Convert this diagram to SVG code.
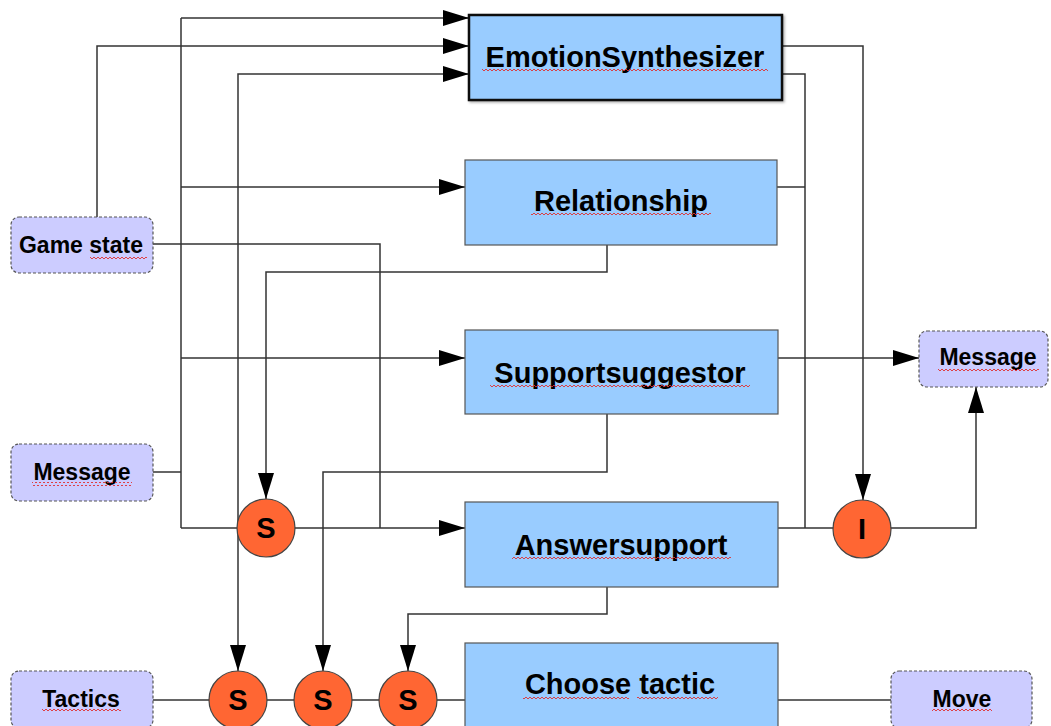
<svg xmlns="http://www.w3.org/2000/svg" width="1051" height="726" viewBox="0 0 1051 726">
<style>
.box{fill:#99ccff;stroke:#555;stroke-width:1.2}
.io{fill:#ccccff;stroke:#555;stroke-width:1.2;stroke-dasharray:3 2}
.op{fill:#ff6633;stroke:#444;stroke-width:1.2}
.big{font-family:"Liberation Sans",Arial,sans-serif;font-weight:bold;font-size:29px;fill:#000;text-anchor:middle}
.sm{font-family:"Liberation Sans",Arial,sans-serif;font-weight:bold;font-size:23px;fill:#000;text-anchor:middle}
.conn{fill:none;stroke:#333;stroke-width:1.5}
.wv{fill:url(#wave)}
</style>
<defs>
<marker id="ah" markerUnits="userSpaceOnUse" markerWidth="26" markerHeight="16" refX="26" refY="8" orient="auto">
<path d="M0,0 L26,8 L0,16 z" fill="#000"/>
</marker>
<pattern id="wave" width="4" height="4" patternUnits="userSpaceOnUse">
<path d="M0,3 L2,1 L4,3" fill="none" stroke="#e03030" stroke-width="0.9"/>
</pattern>
<filter id="sh" x="-5%" y="-5%" width="110%" height="115%">
<feDropShadow dx="1.5" dy="1.5" stdDeviation="1" flood-color="#000" flood-opacity="0.3"/>
</filter>
</defs>
<rect width="1051" height="726" fill="#fff"/>
<g id="connectors">
<path class="conn" d="M181,18 V528"/>
<path class="conn" d="M181,18 H469" marker-end="url(#ah)"/>
<path class="conn" d="M181,187 H465" marker-end="url(#ah)"/>
<path class="conn" d="M181,358 H465" marker-end="url(#ah)"/>
<path class="conn" d="M153,472 H181"/>
<path class="conn" d="M181,528 H465" marker-end="url(#ah)"/>
<path class="conn" d="M97,217 V46 H469" marker-end="url(#ah)"/>
<path class="conn" d="M153,244 H380 V528"/>
<path class="conn" d="M238,300 V74 H469" marker-end="url(#ah)"/>
<path class="conn" d="M238,300 V671" marker-end="url(#ah)"/>
<path class="conn" d="M607,245 V272 H266 V499" marker-end="url(#ah)"/>
<path class="conn" d="M607,414 V472 H323 V671" marker-end="url(#ah)"/>
<path class="conn" d="M607,587 V614 H408 V671" marker-end="url(#ah)"/>
<path class="conn" d="M782,46 H863 V500" marker-end="url(#ah)"/>
<path class="conn" d="M782,74 H805 V528"/>
<path class="conn" d="M777,187 H805"/>
<path class="conn" d="M778,528 H862"/>
<path class="conn" d="M778,358 H919" marker-end="url(#ah)"/>
<path class="conn" d="M862,528 H976 V387" marker-end="url(#ah)"/>
<path class="conn" d="M153,700 H465"/>
<path class="conn" d="M778,700 H891"/>
</g>
<g id="emotion">
<rect x="469" y="15" width="313" height="85" fill="#99ccff" stroke="#111" stroke-width="2.5" filter="url(#sh)"/>
<text class="big" x="625" y="67">EmotionSynthesizer</text>
<rect class="wv" x="482" y="69" width="286" height="4"/>
</g>
<g id="relationship">
<rect class="box" x="465" y="160" width="312" height="85"/>
<text class="big" x="621" y="211">Relationship</text>
<rect class="wv" x="531" y="213" width="180" height="4"/>
</g>
<g id="supportsuggestor">
<rect class="box" x="465" y="330" width="313" height="84"/>
<text class="big" x="620" y="383">Supportsuggestor</text>
<rect class="wv" x="490" y="385" width="260" height="4"/>
</g>
<g id="answersupport">
<rect class="box" x="465" y="502" width="313" height="85"/>
<text class="big" x="621" y="555">Answersupport</text>
<rect class="wv" x="512" y="557" width="219" height="4"/>
</g>
<g id="choosetactic">
<rect class="box" x="465" y="643" width="313" height="90"/>
<text class="big" x="620" y="694">Choose tactic</text>
<rect class="wv" x="523" y="696" width="106" height="4"/>
<rect class="wv" x="637" y="696" width="81" height="4"/>
</g>
<g id="gamestate">
<rect class="io" x="11" y="217" width="142" height="56" rx="8"/>
<text class="sm" x="81" y="253">Game state</text>
<rect class="wv" x="90" y="255" width="57" height="4"/>
</g>
<g id="message-in">
<rect class="io" x="11" y="444" width="142" height="57" rx="8"/>
<text class="sm" x="82" y="480">Message</text>
<rect class="wv" x="32" y="482" width="100" height="4"/>
</g>
<g id="tactics">
<rect class="io" x="11" y="671" width="142" height="57" rx="8"/>
<text class="sm" x="81" y="707">Tactics</text>
<rect class="wv" x="42" y="709" width="79" height="4"/>
</g>
<g id="message-out">
<rect class="io" x="919" y="331" width="129" height="56" rx="8"/>
<text class="sm" x="988" y="365">Message</text>
<rect class="wv" x="938" y="367" width="101" height="4"/>
</g>
<g id="move">
<rect class="io" x="891" y="671" width="141" height="57" rx="8"/>
<text class="sm" x="962" y="707">Move</text>
<rect class="wv" x="932" y="709" width="60" height="4"/>
</g>
<g id="s1">
<circle class="op" cx="266" cy="528" r="29"/>
<text class="big" x="266" y="538">S</text>
</g>
<g id="i1">
<circle class="op" cx="862" cy="529" r="29"/>
<text class="big" x="862" y="539">I</text>
</g>
<g id="s2">
<circle class="op" cx="238" cy="700" r="29"/>
<text class="big" x="238" y="710">S</text>
</g>
<g id="s3">
<circle class="op" cx="323" cy="700" r="29"/>
<text class="big" x="323" y="710">S</text>
</g>
<g id="s4">
<circle class="op" cx="408" cy="700" r="29"/>
<text class="big" x="408" y="710">S</text>
</g>
</svg>
